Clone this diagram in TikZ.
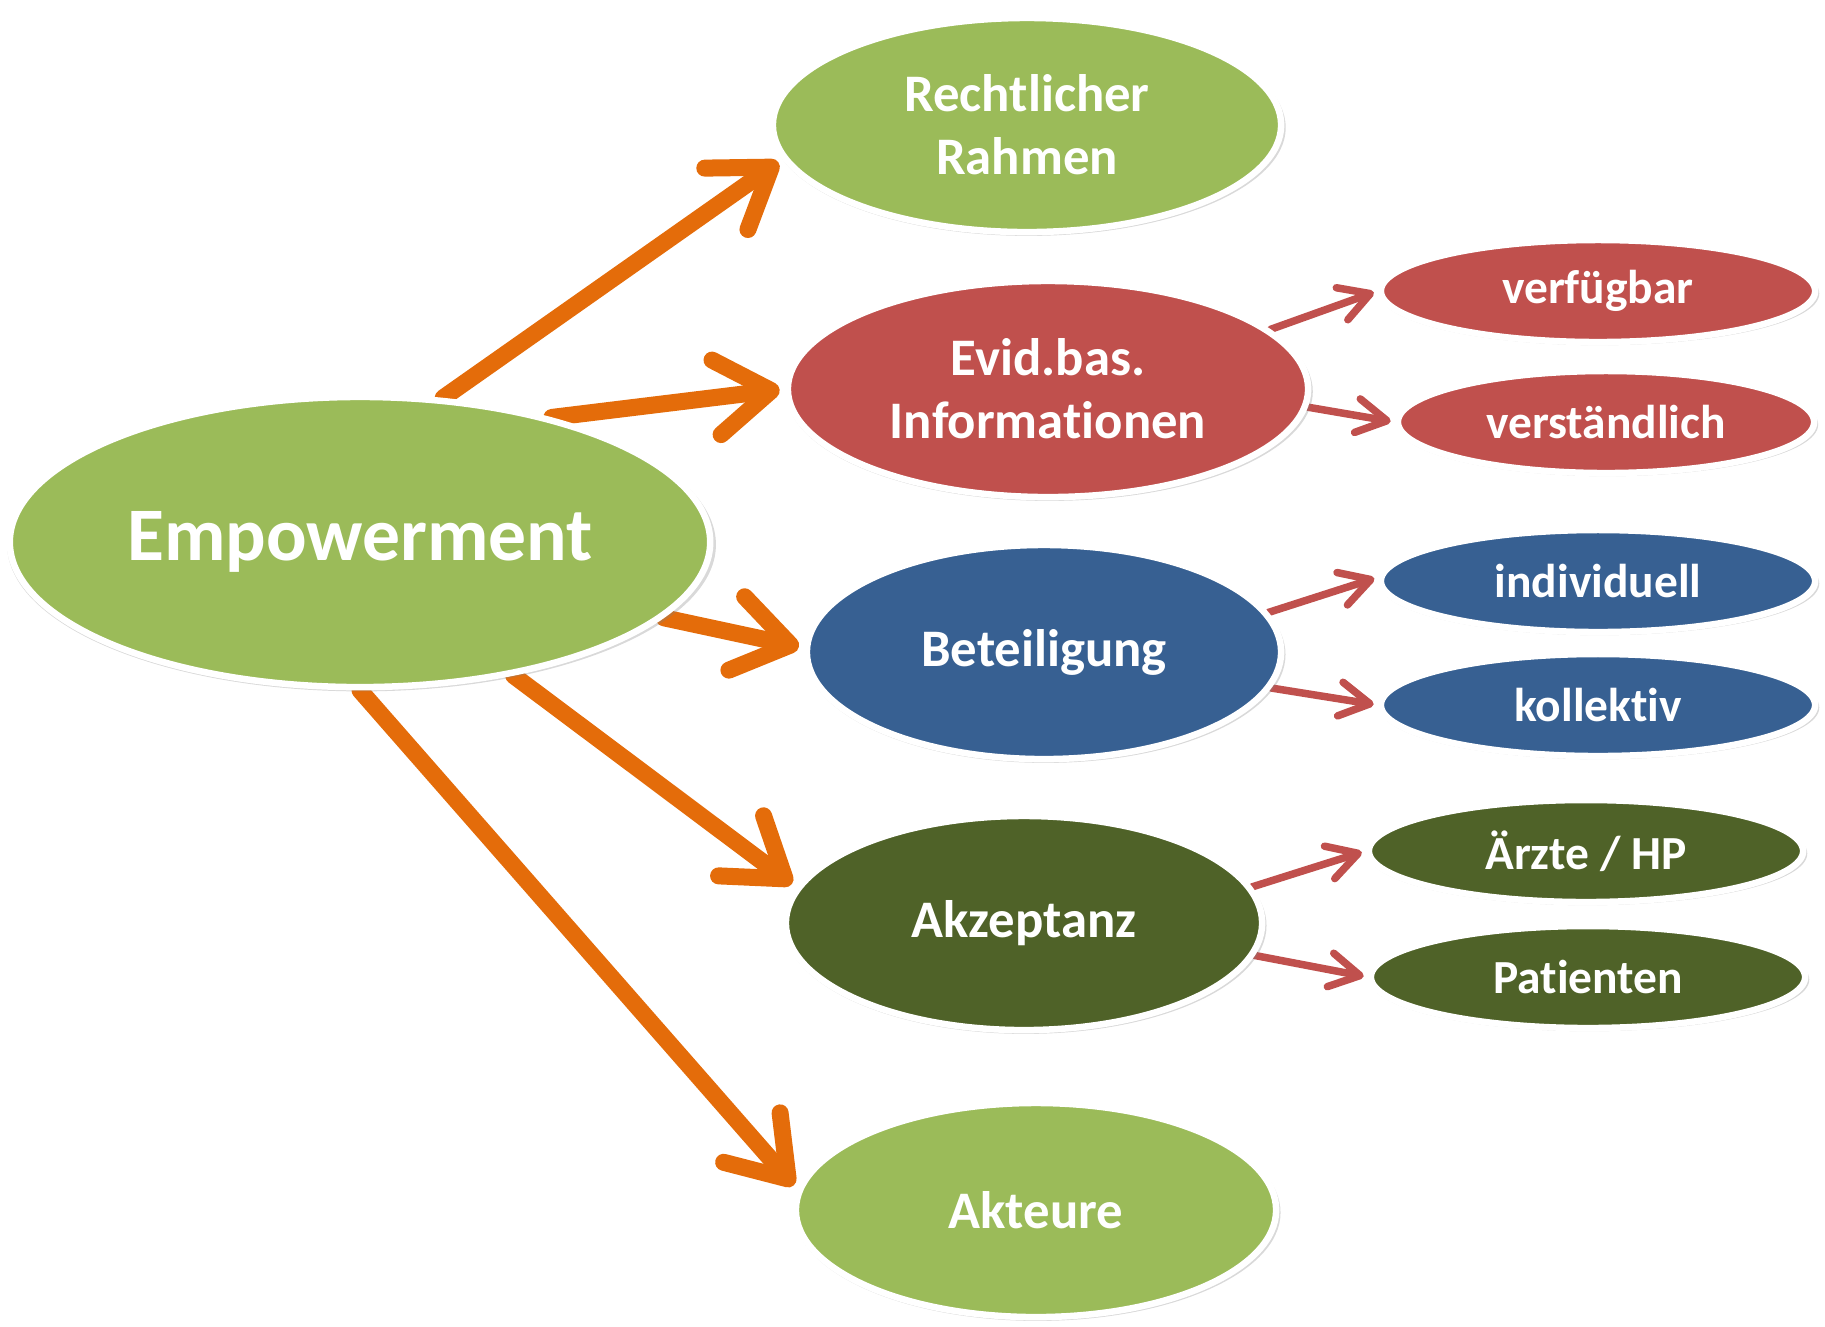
\documentclass[tikz,border=0pt]{standalone}
\usepackage{fontspec}
\setmainfont{Carlito}[Ligatures=NoCommon]
\usepackage{tikz}
\usetikzlibrary{shapes.geometric, arrows.meta, shadows, backgrounds}

\definecolor{leaf}{HTML}{9BBB59}
\definecolor{brick}{HTML}{C0504D}
\definecolor{steel}{HTML}{376092}
\definecolor{olive}{HTML}{4F6228}
\definecolor{amber}{HTML}{E46C0A}

\begin{document}
\begin{tikzpicture}[x=0.01cm, y=-0.01cm,
    bubble/.style={ellipse, draw=white, line width=0.065cm, text=white, inner sep=0pt, align=center,
        drop shadow={shadow xshift=0.015cm, shadow yshift=-0.025cm, shadow scale=1.012, opacity=0.3, fill=black!50}},
    topic/.style={bubble, font=\fontsize{15}{18}\selectfont\bfseries, minimum height=2.14cm},
    detail/.style={bubble, font=\fontsize{13.5}{16}\selectfont\bfseries, minimum width=4.34cm, minimum height=1.02cm},
    bigarrow/.style={-{Straight Barb[length=0.55cm, width=0.75cm, round]}, line width=0.17cm, amber, line cap=round, line join=round, shorten >=0.05cm},
    smallarrow/.style={-{Straight Barb[length=0.3cm, width=0.34cm, round]}, line width=0.075cm, brick, line cap=round, line join=round, shorten >=0.04cm}]
\useasboundingbox (0,0) rectangle (1825,1326);

% Centre
\node[bubble, fill=leaf, minimum width=7.0cm, minimum height=2.9cm, font=\fontsize{21.5}{25}\selectfont\bfseries] (emp) at (360,542) {Empowerment};

% Main topics
\node[topic, fill=leaf, minimum width=5.08cm] (rahmen) at (1027,125) {Rechtlicher\\Rahmen};
\node[topic, fill=brick, minimum width=5.2cm, minimum height=2.16cm] (info) at (1048,389) {Evid.bas.\\Informationen};
\node[topic, fill=steel, minimum width=4.74cm] (beteil) at (1044,652) {Beteiligung};
\node[topic, fill=olive, minimum width=4.76cm] (akzept) at (1024,923) {Akzeptanz};
\node[topic, fill=leaf, minimum width=4.8cm] (akteure) at (1036,1210) {Akteure};

% Details
\node[detail, fill=brick] (verf) at (1598,291) {verfügbar};
\node[detail, fill=brick, minimum width=4.16cm] (verst) at (1606,422) {verständlich};
\node[detail, fill=steel] (indiv) at (1598,581) {individuell};
\node[detail, fill=steel] (koll) at (1598,705) {kollektiv};
\node[detail, fill=olive] (arzt) at (1586,851) {Ärzte / HP};
\node[detail, fill=olive] (pat) at (1588,977) {Patienten};

% Connectors
\begin{scope}[on background layer]
\draw[bigarrow] (emp.60) -- (rahmen.188);
\draw[bigarrow] (emp.33) -- (info.180);
\draw[bigarrow] (emp.-14) -- (beteil.179);
\draw[bigarrow] (emp.-41) -- (akzept.171);
\draw[bigarrow] (emp.-90) -- (akteure.175);

\foreach \from/\to/\a/\b in {info/verf/15/180, info/verst/-4/180, beteil/indiv/10/179,
    beteil/koll/-9/180, akzept/arzt/9/180, akzept/pat/-8/180}
    \draw[smallarrow] (\from.\a) -- (\to.\b);
\end{scope}
\end{tikzpicture}
\end{document}
